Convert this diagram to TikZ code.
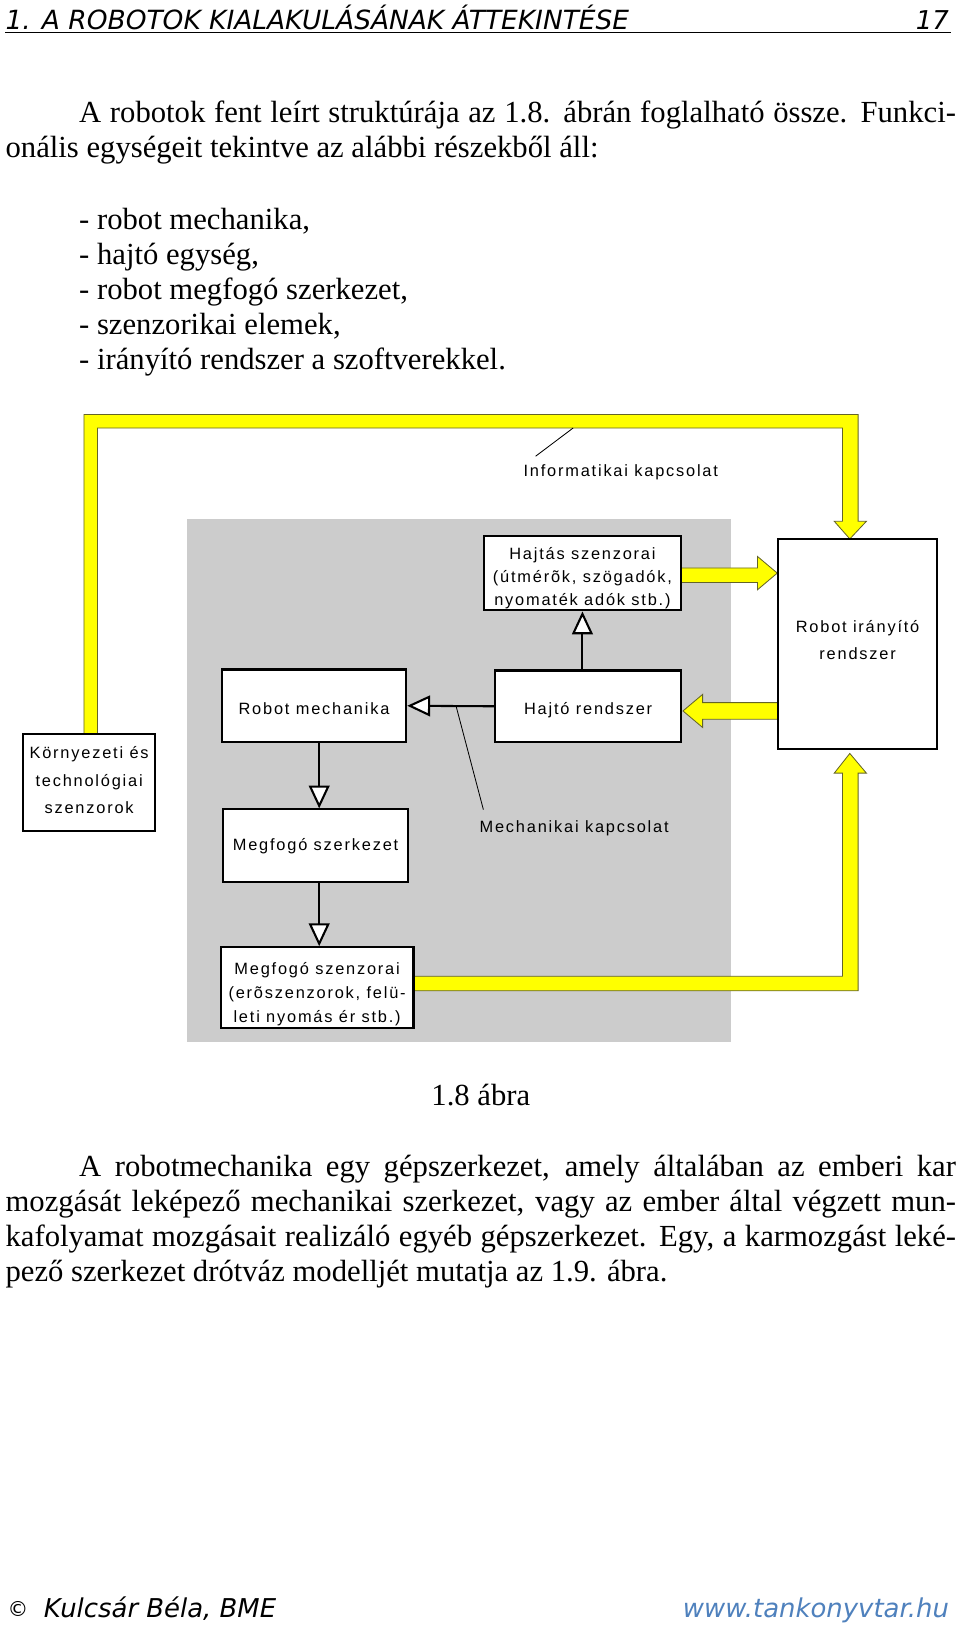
\documentclass[tikz,border=0pt]{standalone}
\usepackage{fontspec}
\setmainfont{Liberation Serif}
\newfontfamily\abrafont[LetterSpace=11]{Liberation Sans}
\newfontfamily\lapfont{DejaVu Sans}
\usetikzlibrary{arrows.meta}
\definecolor{szurke}{RGB}{204,204,204}
\definecolor{sarga}{RGB}{255,255,0}
\definecolor{sargakeret}{RGB}{100,100,40}
\definecolor{linkkek}{RGB}{79,129,189}
\newcommand{\fenn}[1]{\rule{0pt}{#1}}
\newcommand{\lenn}[1]{\rule[-#1]{0pt}{0pt}}

\begin{document}
\begin{tikzpicture}[x=0.5pt,y=-0.5pt,
  doboz/.style={draw,line width=1pt,fill=white,inner sep=0pt,align=center,
    font=\abrafont\fontsize{7.9}{11.25}\selectfont},
  cimke/.style={inner sep=0pt,font=\abrafont\fontsize{7.9}{10}\selectfont},
  nyil/.style={line width=1pt,-{Triangle[fill=white,length=11pt,width=10pt]}},
  sargas/.style={fill=sarga,draw=sargakeret,line width=0.4pt},
  vezeto/.style={line width=0.4pt},
  szoveg/.style={inner sep=0pt,font=\fontsize{14.8}{17}\selectfont},
  lap/.style={inner sep=0pt,font=\lapfont\itshape\fontsize{12.5}{15}\selectfont}]
\useasboundingbox (0,0) rectangle (926,1568);
\fill[white] (0,0) rectangle (926,1568);

% fejlec
\node[lap,anchor=base west,font=\lapfont\itshape\fontsize{12.75}{15}\selectfont] (fej) at (5,28) {1. A ROBOTOK KIALAKULÁSÁNAK ÁTTEKINTÉSE};
\node[lap,anchor=base east] (oldal) at (916,28) {17};
\draw[line width=0.6pt] (5,31)--(918,31);

% szoveg az abra elott
\node[szoveg,anchor=base west] (p1a) at (76,118) {\makebox[423pt][s]{A robotok fent leírt struktúrája az 1.8. ábrán foglalható össze. Funkci-}};
\node[szoveg,anchor=base west] (p1b) at (5,152) {onális egységeit tekintve az alábbi részekből áll:};
\node[szoveg,anchor=base west] (l1) at (76,221) {- robot mechanika,};
\node[szoveg,anchor=base west] (l2) at (76,255) {- hajtó egység,};
\node[szoveg,anchor=base west] (l3) at (76,289) {- robot megfogó szerkezet,};
\node[szoveg,anchor=base west] (l4) at (76,323) {- szenzorikai elemek,};
\node[szoveg,anchor=base west] (l5) at (76,357) {- irányító rendszer a szoftverekkel.};

% abra
\fill[szurke] (180,501) rectangle (705,1005);
\draw[sargas] (81,708)--(81,400)--(828,400)--(828,503)--(836,503)--(820,520)--(805,503)--(813,503)--(813,413)--(94,413)--(94,708)--cycle;
\draw[sargas] (399,942)--(813,942)--(813,746)--(805,746)--(820,727)--(836,746)--(828,746)--(828,956)--(399,956)--cycle;
\draw[sargas] (657,548)--(731,548)--(731,537)--(750,553)--(731,569)--(731,562)--(657,562)--cycle;
\draw[sargas] (751,678)--(678,678)--(678,670)--(659,686)--(678,702)--(678,694)--(751,694)--cycle;

\node[doboz,minimum width=95pt,minimum height=36pt] (hsz) at (562,553) {\fenn{10.8pt}Hajtás szenzorai\\(útmérõk, szögadók,\\nyomaték adók stb.)};
\node[doboz,minimum width=89.5pt,minimum height=34.5pt] (hr) at (567.5,681.5) {\fenn{9.8pt}Hajtó rendszer};
\node[doboz,minimum width=89pt,minimum height=35pt] (rm) at (303,681) {\fenn{8.8pt}Robot mechanika};
\node[doboz,minimum width=76.5pt,minimum height=101.5pt,font=\abrafont\fontsize{7.9}{13}\selectfont] (rir) at (827.5,621.5) {Robot irányító\\rendszer\lenn{4pt}};
\node[doboz,minimum width=64pt,minimum height=47pt,font=\abrafont\fontsize{7.9}{13.25}\selectfont] (kts) at (86,755) {Környezeti és\\technológiai\\szenzorok\lenn{2pt}};
\node[doboz,minimum width=89.5pt,minimum height=35pt] (msz) at (304.5,816) {Megfogó szerkezet};
\node[doboz,minimum width=93pt,minimum height=39pt,font=\abrafont\fontsize{7.9}{11.5}\selectfont] (mszen) at (306,953) {\fenn{11.8pt}Megfogó szenzorai\\(erõszenzorok, felü-\\leti nyomás ér stb.)};

\draw[nyil] (hr.north -| hsz.south)--(hsz.south);
\draw[nyil] (hr.west)--(rm.east);
\draw[nyil] ([xshift=2.5pt]rm.south)--([xshift=1.75pt]msz.north);
\draw[nyil] ([xshift=1.75pt]msz.south)--([xshift=1pt]mszen.north);

\node[cimke] (info) at (599,456) {Informatikai kapcsolat};
\node[cimke] (mech) at (554,799) {Mechanikai kapcsolat};
\coordinate (ikpont) at (553,413);
\coordinate (mkpont) at (440,681);
\draw[vezeto] (ikpont)--([xshift=6pt,yshift=4pt]info.north west);
\draw[vezeto] (mkpont)--([xshift=2pt,yshift=5pt]mech.north west);

% szoveg az abra utan
\node[szoveg,anchor=base] (felirat) at (464,1067) {1.8 ábra};
\node[szoveg,anchor=base west] (p2a) at (76,1135) {\makebox[423pt][s]{A robotmechanika egy gépszerkezet, amely általában az emberi kar}};
\node[szoveg,anchor=base west] (p2b) at (5,1169) {\makebox[458.5pt][s]{mozgását leképező mechanikai szerkezet, vagy az ember által végzett mun-}};
\node[szoveg,anchor=base west] (p2c) at (5,1203) {\makebox[458.5pt][s]{kafolyamat mozgásait realizáló egyéb gépszerkezet. Egy, a karmozgást leké-}};
\node[szoveg,anchor=base west] (p2d) at (5,1237) {pező szerkezet drótváz modelljét mutatja az 1.9. ábra.};

% lablec
\node[inner sep=0pt,anchor=base west,font=\lapfont\fontsize{10}{11}\selectfont] (copy) at (7,1560) {©};
\node[lap,anchor=base west] (szerzo) at (42,1561) {Kulcsár Béla, BME};
\node[lap,anchor=base east,text=linkkek] (url) at (916,1561) {\underline{www.tankonyvtar.hu}};
\end{tikzpicture}
\end{document}
